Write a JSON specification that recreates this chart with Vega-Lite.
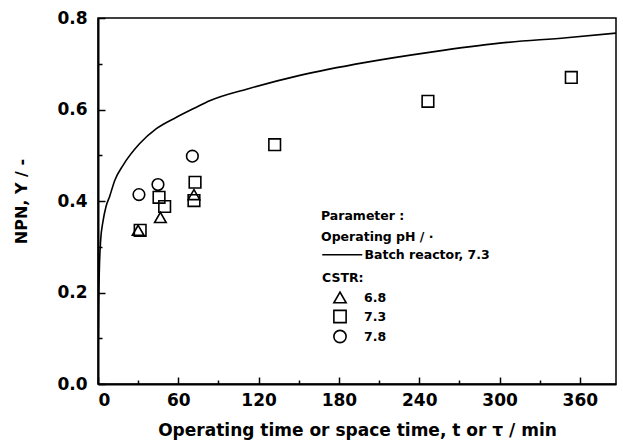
{
  "$schema": "https://vega.github.io/schema/vega-lite/v6.json",
  "width": 518,
  "height": 366,
  "autosize": {"type": "none"},
  "padding": {"left": 98, "top": 18, "right": 7, "bottom": 61},
  "background": "white",
  "config": {
    "font": "DejaVu Sans",
    "view": {"stroke": "black", "strokeWidth": 1.5},
    "axis": {
      "grid": false,
      "domainColor": "black",
      "domainWidth": 2,
      "tickColor": "black",
      "tickWidth": 1.5,
      "labelFont": "DejaVu Sans",
      "labelFontSize": 17,
      "labelFontWeight": "bold",
      "labelColor": "black",
      "titleFont": "DejaVu Sans",
      "titleFontSize": 16,
      "titleFontWeight": "bold",
      "titleColor": "black"
    },
    "legend": {
      "labelFont": "DejaVu Sans",
      "labelFontSize": 12.5,
      "labelFontWeight": "bold",
      "labelColor": "black",
      "titleFont": "DejaVu Sans",
      "titleFontSize": 12.5,
      "titleFontWeight": "bold",
      "titleColor": "black"
    }
  },
  "resolve": {"axis": {"x": "independent", "y": "independent"}},
  "datasets": {
    "batch": [
      {"t": 0, "npn": 0.0, "series": "Batch reactor, 7.3"},
      {"t": 0.2, "npn": 0.1, "series": "Batch reactor, 7.3"},
      {"t": 0.5, "npn": 0.18, "series": "Batch reactor, 7.3"},
      {"t": 1.0, "npn": 0.25, "series": "Batch reactor, 7.3"},
      {"t": 2.0, "npn": 0.315, "series": "Batch reactor, 7.3"},
      {"t": 3.7, "npn": 0.355, "series": "Batch reactor, 7.3"},
      {"t": 6.0, "npn": 0.388, "series": "Batch reactor, 7.3"},
      {"t": 8.7, "npn": 0.41, "series": "Batch reactor, 7.3"},
      {"t": 12.5, "npn": 0.445, "series": "Batch reactor, 7.3"},
      {"t": 18.7, "npn": 0.478, "series": "Batch reactor, 7.3"},
      {"t": 31, "npn": 0.525, "series": "Batch reactor, 7.3"},
      {"t": 43.6, "npn": 0.558, "series": "Batch reactor, 7.3"},
      {"t": 58.6, "npn": 0.583, "series": "Batch reactor, 7.3"},
      {"t": 73.5, "npn": 0.605, "series": "Batch reactor, 7.3"},
      {"t": 83.4, "npn": 0.619, "series": "Batch reactor, 7.3"},
      {"t": 113, "npn": 0.646, "series": "Batch reactor, 7.3"},
      {"t": 150, "npn": 0.674, "series": "Batch reactor, 7.3"},
      {"t": 200, "npn": 0.703, "series": "Batch reactor, 7.3"},
      {"t": 250, "npn": 0.726, "series": "Batch reactor, 7.3"},
      {"t": 300, "npn": 0.745, "series": "Batch reactor, 7.3"},
      {"t": 350, "npn": 0.757, "series": "Batch reactor, 7.3"},
      {"t": 387, "npn": 0.767, "series": "Batch reactor, 7.3"}
    ],
    "cstr": [
      {"tau": 30, "npn": 0.336, "pH": "6.8"},
      {"tau": 46.6, "npn": 0.364, "pH": "6.8"},
      {"tau": 71.7, "npn": 0.414, "pH": "6.8"},
      {"tau": 31.5, "npn": 0.336, "pH": "7.3"},
      {"tau": 45.6, "npn": 0.408, "pH": "7.3"},
      {"tau": 49.8, "npn": 0.388, "pH": "7.3"},
      {"tau": 72.5, "npn": 0.441, "pH": "7.3"},
      {"tau": 71.7, "npn": 0.401, "pH": "7.3"},
      {"tau": 132, "npn": 0.523, "pH": "7.3"},
      {"tau": 246.5, "npn": 0.618, "pH": "7.3"},
      {"tau": 353.6, "npn": 0.67, "pH": "7.3"},
      {"tau": 30.6, "npn": 0.414, "pH": "7.8"},
      {"tau": 44.8, "npn": 0.436, "pH": "7.8"},
      {"tau": 70.5, "npn": 0.498, "pH": "7.8"}
    ]
  },
  "layer": [
    {
      "data": {"name": "batch"},
      "mark": {"type": "line", "strokeWidth": 1.6, "interpolate": "monotone", "clip": true},
      "encoding": {
        "x": {
          "field": "t", "type": "quantitative",
          "scale": {"domain": [0, 387], "nice": false, "zero": false},
          "axis": {
            "orient": "bottom",
            "title": "Operating time or space time, t or τ  /  min",
            "titleFontSize": 17,
            "values": [0, 60, 120, 180, 240, 300, 360],
            "tickSize": -7,
            "labelPadding": 15,
            "titlePadding": 14
          }
        },
        "y": {
          "field": "npn", "type": "quantitative",
          "scale": {"domain": [0, 0.8], "nice": false},
          "axis": {
            "orient": "left",
            "title": "NPN, Y  /  -",
            "values": [0, 0.2, 0.4, 0.6, 0.8],
            "format": ".1f",
            "tickSize": -7,
            "labelPadding": 18,
            "titlePadding": 27
          }
        },
        "color": {
          "field": "series", "type": "nominal",
          "scale": {"domain": ["Batch reactor, 7.3"], "range": ["black"]},
          "legend": {
            "title": ["Parameter :", "Operating pH  /  ·"],
            "orient": "none",
            "legendX": 223,
            "legendY": 192,
            "titleLineHeight": 21,
            "titlePadding": 5,
            "symbolType": "M-1,0H7",
            "symbolSize": 100,
            "symbolStrokeWidth": 1.5,
            "labelOffset": 31
          }
        }
      }
    },
    {
      "data": {"name": "cstr"},
      "mark": {"type": "point", "filled": false, "stroke": "black", "strokeWidth": 1.6, "size": 135, "opacity": 1},
      "encoding": {
        "x": {
          "field": "tau", "type": "quantitative",
          "axis": {
            "orient": "bottom",
            "values": [30, 90, 150, 210, 270, 330],
            "labels": false,
            "domain": false,
            "title": null,
            "tickSize": -4
          }
        },
        "y": {
          "field": "npn", "type": "quantitative",
          "axis": {
            "orient": "left",
            "values": [0.1, 0.3, 0.5, 0.7],
            "labels": false,
            "domain": false,
            "title": null,
            "tickSize": -4
          }
        },
        "shape": {
          "field": "pH", "type": "nominal",
          "scale": {"domain": ["6.8", "7.3", "7.8"], "range": ["triangle-up", "square", "circle"]},
          "legend": {
            "title": "CSTR:",
            "orient": "none",
            "legendX": 224,
            "legendY": 254,
            "titlePadding": 6,
            "rowPadding": 0,
            "symbolSize": 150,
            "symbolStrokeWidth": 1.6,
            "symbolStrokeColor": "black",
            "symbolOffset": 11,
            "labelOffset": 17
          }
        }
      }
    }
  ]
}
